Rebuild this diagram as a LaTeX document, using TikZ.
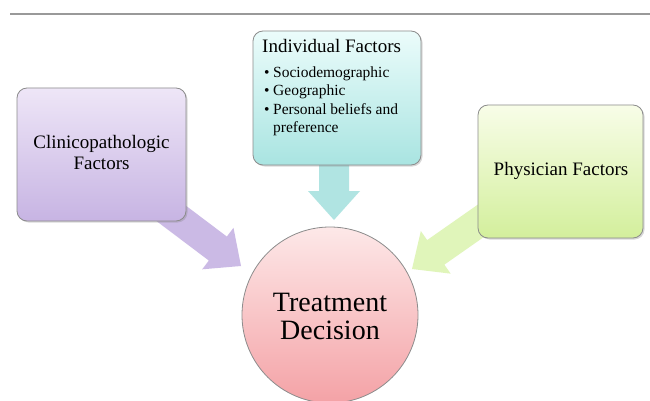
\documentclass[tikz,border=0pt]{standalone}
\usepackage{fontspec}
\setmainfont{Liberation Serif}
\usetikzlibrary{shadows,calc}
\definecolor{purT}{HTML}{EEE6F7}
\definecolor{purB}{HTML}{C7B4E3}
\definecolor{teaT}{HTML}{EBFCFB}
\definecolor{teaB}{HTML}{A9E4E1}
\definecolor{greT}{HTML}{F8FDE8}
\definecolor{greB}{HTML}{D3EF9C}
\definecolor{pinT}{HTML}{FDE8E8}
\definecolor{pinB}{HTML}{F4A2A6}
\definecolor{purA}{HTML}{C6B3E3}
\definecolor{teaA}{HTML}{A8E2DF}
\definecolor{greA}{HTML}{DDF4B3}
\tikzset{
  box/.style={draw=black!45, line width=0.8pt, rounded corners=10pt,
    drop shadow={shadow xshift=1.5pt, shadow yshift=-1.5pt, opacity=0.3},
    inner sep=0pt},
  bigtxt/.style={font=\fontsize{19}{21}\selectfont, align=center, inner sep=0pt},
  smalltxt/.style={font=\fontsize{15.5}{18}\selectfont, anchor=base west, inner sep=0pt},
  blockarrow/.style={opacity=0.9},
}
% #1 tip coordinate, #2 angle (clockwise on page), #3 length, #4 colour
\newcommand{\blockarr}[4]{%
  \fill[blockarrow, #4, shift={(#1)}, rotate=-#2]
    (-#3,-15) -- (-29,-15) -- (-29,-26) -- (0,0) -- (-29,26) -- (-29,15) -- (-#3,15) -- cycle;}
\begin{document}
\begin{tikzpicture}[x=1pt,y=-1pt]
\useasboundingbox (0,0) rectangle (650,401);
\fill[white] (0,0) rectangle (650,401);
% top rule
\draw[black!40, line width=1.6pt] (10,14) -- (650,14);

% tips
\coordinate (tipC) at (241,266);
\coordinate (tipI) at (334,220);
\coordinate (tipP) at (412,269);

% circle
\node[circle, draw=black!45, line width=0.8pt, minimum size=176pt, inner sep=0pt,
  top color=pinT, bottom color=pinB] (dec) at (330,315) {};
\node[bigtxt, font=\fontsize{28}{30}\selectfont] (dect) at (330,316) {Treatment\\[-2pt]Decision};

% arrows
\blockarr{tipC}{37}{110}{purA}
\blockarr{tipI}{90}{80}{teaA}
\blockarr{tipP}{145}{110}{greA}

% boxes
\node[box, minimum width=169pt, minimum height=133pt, top color=purT, bottom color=purB]
  (clin) at (101.5,154.5) {};
\node[bigtxt] (clint) at (101.5,153) {Clinicopathologic\\Factors};

\node[box, minimum width=168pt, minimum height=134pt, top color=teaT, bottom color=teaB]
  (ind) at (337,98) {};
\node[font=\fontsize{19}{21}\selectfont, anchor=base west, inner sep=0pt] (indt) at (262,53) {Individual Factors};
\node[smalltxt] (b1) at (264,78) {\textbullet};
\node[smalltxt] (l1) at (273,78) {Sociodemographic};
\node[smalltxt] (b2) at (264,96) {\textbullet};
\node[smalltxt] (l2) at (273,96) {Geographic};
\node[smalltxt] (b3) at (264,114) {\textbullet};
\node[smalltxt] (l3) at (273,114) {Personal beliefs and};
\node[smalltxt] (l4) at (273,132) {preference};

\node[box, minimum width=165pt, minimum height=133pt, top color=greT, bottom color=greB]
  (phys) at (560.5,171.5) {};
\node[bigtxt] (physt) at (561,171) {Physician Factors};
\end{tikzpicture}
\end{document}
